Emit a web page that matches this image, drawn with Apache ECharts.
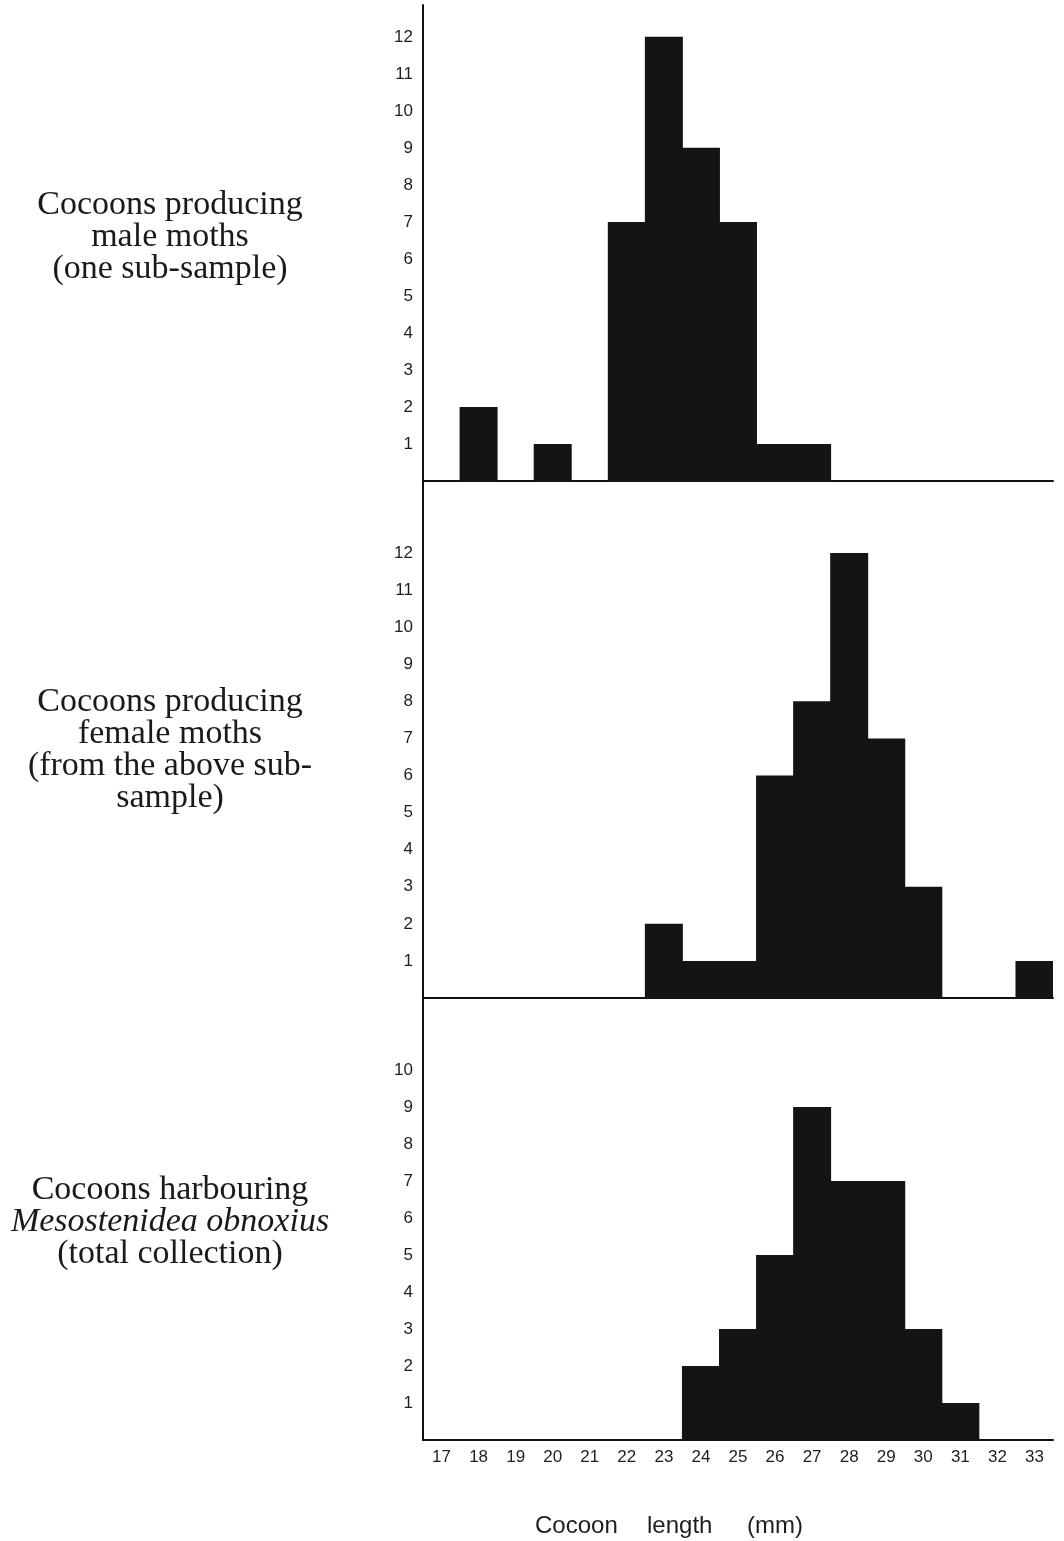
<!DOCTYPE html>
<html>
<head>
<meta charset="utf-8">
<script src="https://cdn.jsdelivr.net/npm/echarts@6/dist/echarts.min.js"></script>
<style>
html,body{margin:0;padding:0;background:#fff;}
#chart{width:1064px;height:1541px;}
</style>
</head>
<body>
<div id="chart"></div>
<script>
// Cocoon length categories (mm)
const lengths = ['17','18','19','20','21','22','23','24','25','26','27','28','29','30','31','32','33'];
// Counts per length
const maleMoths   = [0,2,0,1,0,7,12,9,7,1,1,0,0,0,0,0,0];
const femaleMoths = [0,0,0,0,0,0,2,1,1,6,8,12,7,3,0,0,1];
const parasitised = [0,0,0,0,0,0,0,2,3,5,9,7,7,3,1,0,0];
// Highest y tick label shown in each panel
const maxTickLabels = [12, 12, 10];
// Panel labels
const panelLabels = [
  '{n|Cocoons producing}\n{n|male moths}\n{n|(one sub-sample)}',
  '{n|Cocoons producing}\n{n|female moths}\n{n|(from the above sub-}\n{n|sample)}',
  '{n|Cocoons harbouring}\n{i|Mesostenidea obnoxius}\n{n|(total collection)}'
];
const xTitleWords = ['Cocoon', 'length', '(mm)'];

const chart = echarts.init(document.getElementById('chart'), null, {renderer:'canvas'});
const LEFT = 423, RIGHT = 11;
const panels = [
  {top:5,   height:476, max:12.86, data:maleMoths,   cy:237},
  {top:481, height:517, max:13.94, data:femaleMoths, cy:750},
  {top:998, height:442, max:11.95, data:parasitised, cy:1222}
];
const sans = 'Liberation Sans, Arial, sans-serif';
const serif = 'Liberation Serif, Times New Roman, serif';
const titleX = [535, 647, 747];

const option = {
  backgroundColor:'#fff',
  animation:false,
  grid: panels.map(p => ({left:LEFT, right:RIGHT, top:p.top, height:p.height})),
  xAxis: panels.map((p,i) => ({
    type:'category', gridIndex:i, data:lengths, boundaryGap:true,
    axisLine:{show:true, lineStyle:{color:'#111', width:2}},
    axisTick:{show:false},
    axisLabel:{show:i===2, fontFamily:sans, fontSize:17, color:'#1e1e1e', margin:9, interval:0},
    splitLine:{show:false}
  })),
  yAxis: panels.map((p,i) => ({
    type:'value', gridIndex:i, min:0, max:p.max, interval:1,
    axisLine:{show:true, lineStyle:{color:'#111', width:2}},
    axisTick:{show:false},
    splitLine:{show:false},
    axisLabel:{
      fontFamily:sans, fontSize:17, color:'#1e1e1e', margin:10,
      showMaxLabel:false, showMinLabel:false,
      formatter: v => {
        const r = Math.round(v);
        return (r > 0 && r <= maxTickLabels[i] && Math.abs(v - r) < 1e-6) ? String(r) : '';
      }
    }
  })),
  series: panels.map((p,i) => ({
    type:'bar', xAxisIndex:i, yAxisIndex:i, data:p.data,
    barWidth:38, barCategoryGap:0,
    itemStyle:{color:'#141414'},
    silent:true
  })),
  graphic: panels.map((p,i) => ({
    type:'text',
    x:170, y:p.cy,
    style:{
      text: panelLabels[i],
      align:'center', verticalAlign:'middle',
      rich:{
        n:{fontFamily:serif, fontSize:34, lineHeight:32, fill:'#1a1a1a', align:'center'},
        i:{fontFamily:serif, fontSize:34, lineHeight:32, fontStyle:'italic', fill:'#1a1a1a', align:'center'}
      }
    }
  })).concat(xTitleWords.map((w,k) => ({
    type:'text', x:titleX[k], y:1526,
    style:{text:w, font:'24px '+sans, fill:'#1e1e1e', align:'left', verticalAlign:'middle'}
  })))
};
chart.setOption(option);
</script>
</body>
</html>
